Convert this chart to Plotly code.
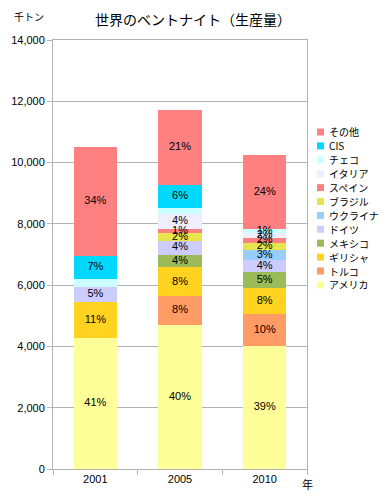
import plotly.graph_objects as go
import numpy as np

years = ["2001", "2005", "2010"]

# series (bottom to top), values in 千トン
series_names = ["アメリカ", "トルコ", "ギリシャ", "メキシコ", "ドイツ", "ウクライナ",
                "ブラジル", "スペイン", "イタリア", "チェコ", "CIS", "その他"]
usa     = [4280, 4710, 4000]
turkey  = [0, 924, 1050]
greece  = [1160, 946, 855]
mexico  = [0, 420, 522]
germany = [500, 457, 401]
ukraine = [0, 0, 304]
brazil  = [0, 242, 250]
spain   = [0, 140, 160]
italy   = [0, 490, 170]
czech   = [260, 196, 110]
cis     = [740, 750, 0]
other   = [3570, 2450, 2430]

series_values = [usa, turkey, greece, mexico, germany, ukraine,
                 brazil, spain, italy, czech, cis, other]
colors = ["#ffff99", "#ff9c66", "#ffd320", "#9bbb59", "#ccccff", "#99ccff",
          "#e6e64c", "#ff8080", "#eeeeff", "#ccffff", "#00d8ff", "#ff8080"]
hidden_labels = {("チェコ", "2001"), ("チェコ", "2005")}

y_ticks = [0, 2000, 4000, 6000, 8000, 10000, 12000, 14000]

FONT = "Liberation Sans, Arial, Noto Sans CJK JP, sans-serif"
JFONT = "Noto Sans CJK JP, sans-serif"

# the page has an 8px body margin; size the figure so it lands on the window
OFF = 8
W, H = 387 - OFF, 503 - OFF
ML, MR, MT, MB = 53 - OFF, 80, 40 - OFF, 34
PW, PH = W - ML - MR, H - MT - MB


def px_x(px):
    return (px - OFF - ML) / PW


def px_y(py):
    return (H - MB - (py - OFF)) / PH


fig = go.Figure()
vals = np.array(series_values, dtype=float)
totals = vals.sum(axis=0)
cum = np.cumsum(vals, axis=0)

for name, v, c in zip(series_names, series_values, colors):
    fig.add_trace(go.Bar(x=years, y=v, name=name, marker=dict(color=c, line=dict(width=0)),
                         hoverinfo="skip", showlegend=False))

# percentage labels
lx, ly, lt = [], [], []
for i, name in enumerate(series_names):
    for j, yr in enumerate(years):
        v = vals[i, j]
        if v <= 0 or (name, yr) in hidden_labels:
            continue
        mid = cum[i, j] - v / 2
        pct = int(v / totals[j] * 100 + 0.5)
        lx.append(yr)
        ly.append(mid)
        lt.append(f"{pct}%")
fig.add_trace(go.Scatter(x=lx, y=ly, text=lt, mode="text", showlegend=False,
                         textfont=dict(size=11, color="black", family=FONT),
                         hoverinfo="skip"))

# legend (top entry = last series)
leg_top, leg_step = 132, 13.9
for k, (name, c) in enumerate(zip(reversed(series_names), reversed(colors))):
    cy = leg_top + k * leg_step
    fig.add_shape(type="rect", xref="paper", yref="paper",
                  x0=px_x(317), x1=px_x(324), y0=px_y(cy + 3.5), y1=px_y(cy - 3.5),
                  fillcolor=c, line=dict(width=0))
    fig.add_annotation(text=name, xref="paper", yref="paper", x=px_x(327), y=px_y(cy),
                       xanchor="left", yanchor="middle", showarrow=False,
                       font=dict(size=10, family=JFONT, color="black"))

fig.update_layout(
    width=W, height=H,
    barmode="stack", bargap=0.49,
    paper_bgcolor="white", plot_bgcolor="white",
    margin=dict(l=ML, r=MR, t=MT, b=MB, autoexpand=False),
    font=dict(family=FONT, size=11, color="black"),
    title=dict(text="世界のベントナイト（生産量）", x=(193 - OFF) / W, xref="container",
               xanchor="center", y=1 - (20 - OFF) / H, yref="container", yanchor="middle",
               font=dict(size=14, family=JFONT)),
    showlegend=False,
)
fig.update_yaxes(range=[0, 14000], tickvals=y_ticks, tickformat=",d",
                 showgrid=True, gridcolor="#b3b3b3", gridwidth=1,
                 showline=True, linecolor="#b3b3b3", linewidth=1, mirror=True,
                 ticks="outside", ticklen=5, tickcolor="#b3b3b3",
                 tickfont=dict(size=11), zeroline=False, fixedrange=True, automargin=False)
fig.update_xaxes(type="category", showline=True, linecolor="#b3b3b3", linewidth=1, mirror=True,
                 ticks="outside", ticklen=5, tickcolor="#b3b3b3", tickson="boundaries",
                 tickfont=dict(size=11), showgrid=False, fixedrange=True, automargin=False)

fig.add_annotation(text="千トン", xref="paper", yref="paper", x=px_x(12), y=px_y(17),
                   xanchor="left", yanchor="middle", showarrow=False,
                   font=dict(size=10, family=JFONT))
fig.add_annotation(text="年", xref="paper", yref="paper", x=px_x(300), y=px_y(484),
                   xanchor="left", yanchor="middle", showarrow=False,
                   font=dict(size=11, family=JFONT))

fig.write_html("out.html")
